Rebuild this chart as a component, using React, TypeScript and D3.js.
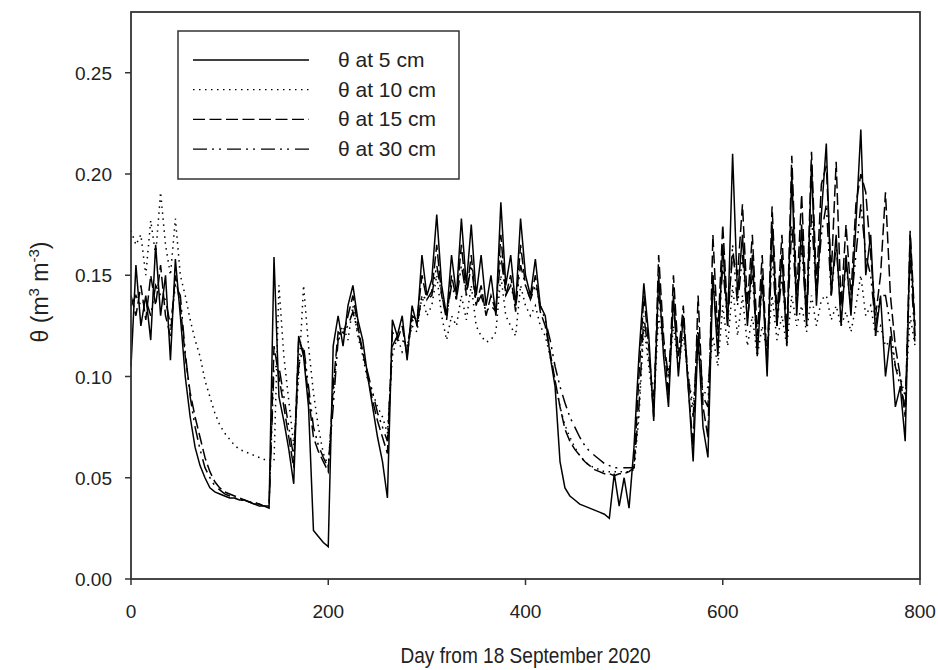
import React from "react";
import * as d3 from "d3";

// Day index (every 5 days from 18 Sep 2020)
const days: number[] = d3.range(0, 800, 5);

const theta5: number[] = [
  0.105,0.155,0.125,0.140,0.118,0.165,0.130,0.150,0.108,0.158,
  0.130,0.100,0.080,0.065,0.056,0.050,0.045,0.043,0.042,0.041,
  0.040,0.040,0.039,0.039,0.038,0.037,0.036,0.036,0.035,0.159,
  0.090,0.078,0.064,0.047,0.120,0.110,0.085,0.024,0.021,0.018,
  0.016,0.115,0.130,0.115,0.135,0.145,0.128,0.118,0.100,0.085,
  0.070,0.058,0.040,0.128,0.120,0.130,0.108,0.135,0.125,0.160,
  0.140,0.148,0.180,0.145,0.130,0.160,0.140,0.178,0.145,0.175,
  0.140,0.160,0.135,0.150,0.130,0.186,0.145,0.160,0.135,0.178,
  0.150,0.140,0.158,0.135,0.130,0.110,0.095,0.058,0.045,0.041,
  0.039,0.037,0.036,0.035,0.034,0.033,0.032,0.030,0.052,0.036,
  0.050,0.035,0.065,0.110,0.146,0.120,0.078,0.150,0.110,0.085,
  0.140,0.100,0.130,0.095,0.058,0.120,0.075,0.060,0.150,0.110,
  0.165,0.125,0.210,0.140,0.170,0.125,0.160,0.110,0.150,0.100,
  0.175,0.125,0.160,0.115,0.200,0.130,0.175,0.125,0.205,0.135,
  0.180,0.215,0.140,0.170,0.125,0.160,0.130,0.175,0.222,0.150,
  0.170,0.120,0.140,0.100,0.120,0.085,0.095,0.068,0.170,0.120,
];

const theta10: number[] = [
  0.172,0.165,0.170,0.150,0.177,0.160,0.191,0.165,0.150,0.178,
  0.150,0.140,0.128,0.118,0.110,0.098,0.090,0.082,0.076,0.072,
  0.069,0.066,0.064,0.063,0.062,0.061,0.060,0.059,0.059,0.058,
  0.145,0.110,0.088,0.066,0.100,0.145,0.115,0.092,0.075,0.062,
  0.056,0.090,0.120,0.125,0.118,0.135,0.120,0.110,0.098,0.092,
  0.085,0.080,0.072,0.110,0.120,0.112,0.115,0.125,0.122,0.140,
  0.130,0.135,0.150,0.130,0.118,0.130,0.125,0.140,0.128,0.145,
  0.125,0.120,0.117,0.118,0.122,0.150,0.130,0.125,0.120,0.145,
  0.135,0.130,0.135,0.125,0.120,0.110,0.098,0.085,0.076,0.070,
  0.065,0.061,0.058,0.056,0.055,0.054,0.053,0.053,0.053,0.053,
  0.053,0.053,0.054,0.080,0.125,0.105,0.085,0.130,0.115,0.100,
  0.125,0.105,0.120,0.100,0.085,0.115,0.090,0.095,0.120,0.105,
  0.135,0.115,0.145,0.120,0.140,0.115,0.130,0.110,0.125,0.112,
  0.140,0.118,0.130,0.115,0.140,0.125,0.135,0.122,0.140,0.125,
  0.138,0.140,0.128,0.135,0.125,0.132,0.122,0.135,0.150,0.130,
  0.135,0.120,0.125,0.115,0.118,0.105,0.100,0.090,0.130,0.115,
];

const theta15: number[] = [
  0.140,0.130,0.145,0.128,0.150,0.135,0.155,0.130,0.120,0.150,
  0.135,0.110,0.092,0.080,0.070,0.060,0.053,0.048,0.045,0.043,
  0.042,0.041,0.040,0.039,0.038,0.038,0.037,0.036,0.036,0.115,
  0.100,0.085,0.070,0.055,0.118,0.112,0.090,0.070,0.063,0.058,
  0.053,0.095,0.122,0.120,0.130,0.140,0.125,0.112,0.100,0.088,
  0.078,0.070,0.062,0.122,0.118,0.125,0.110,0.130,0.128,0.150,
  0.138,0.142,0.165,0.140,0.128,0.150,0.138,0.165,0.140,0.160,
  0.135,0.145,0.130,0.140,0.132,0.170,0.140,0.150,0.132,0.165,
  0.145,0.138,0.150,0.132,0.125,0.112,0.098,0.085,0.074,0.068,
  0.064,0.061,0.058,0.056,0.054,0.053,0.052,0.052,0.051,0.052,
  0.052,0.053,0.055,0.100,0.140,0.115,0.080,0.160,0.120,0.090,
  0.150,0.110,0.135,0.095,0.065,0.140,0.085,0.070,0.170,0.120,
  0.175,0.130,0.160,0.150,0.185,0.135,0.170,0.120,0.160,0.105,
  0.184,0.130,0.170,0.120,0.209,0.140,0.190,0.130,0.211,0.145,
  0.195,0.204,0.150,0.206,0.135,0.175,0.140,0.185,0.200,0.191,
  0.160,0.130,0.150,0.191,0.140,0.115,0.100,0.080,0.172,0.125,
];

const theta30: number[] = [
  0.135,0.140,0.135,0.138,0.130,0.145,0.140,0.138,0.125,0.145,
  0.140,0.112,0.090,0.075,0.064,0.055,0.050,0.046,0.044,0.042,
  0.041,0.040,0.039,0.039,0.038,0.037,0.037,0.036,0.036,0.105,
  0.105,0.090,0.075,0.060,0.105,0.115,0.095,0.075,0.066,0.060,
  0.055,0.085,0.118,0.122,0.125,0.132,0.122,0.112,0.102,0.092,
  0.082,0.075,0.068,0.115,0.120,0.118,0.115,0.128,0.125,0.140,
  0.138,0.140,0.155,0.140,0.130,0.145,0.138,0.155,0.140,0.155,
  0.135,0.140,0.132,0.135,0.132,0.160,0.140,0.145,0.135,0.155,
  0.145,0.138,0.145,0.135,0.128,0.118,0.105,0.095,0.087,0.080,
  0.075,0.070,0.066,0.063,0.061,0.059,0.057,0.056,0.055,0.055,
  0.055,0.055,0.055,0.085,0.130,0.110,0.090,0.140,0.118,0.100,
  0.135,0.110,0.128,0.100,0.080,0.125,0.090,0.085,0.150,0.115,
  0.155,0.125,0.165,0.135,0.160,0.128,0.150,0.115,0.145,0.110,
  0.160,0.125,0.150,0.120,0.175,0.135,0.165,0.128,0.180,0.140,
  0.170,0.185,0.140,0.165,0.130,0.155,0.135,0.160,0.185,0.160,
  0.150,0.125,0.140,0.140,0.125,0.105,0.095,0.085,0.160,0.115,
];

const seriesLabels: string[] = ["θ at 5 cm", "θ at 10 cm", "θ at 15 cm", "θ at 30 cm"];
const xTicks: number[] = [0, 200, 400, 600, 800];
const yTicks: number[] = [0, 0.05, 0.1, 0.15, 0.2, 0.25];

const W = 938;
const H = 670;
const M = { left: 131, right: 920, top: 12, bottom: 579 };
const FONT = "'Liberation Sans', Arial, sans-serif";
const dashes = ["none", "1.5,4.5", "12,4.5", "14,5,2,5,2,6"];

export default function App() {
  const x = d3.scaleLinear().domain([0, 800]).range([M.left, M.right]);
  const y = d3.scaleLinear().domain([0, 0.28]).range([M.bottom, M.top]);
  const all = [theta5, theta10, theta15, theta30];
  const line = d3
    .line<number>()
    .x((_, i) => x(days[i]))
    .y((v) => y(v));
  const drawOrder = [1, 2, 3, 0];
  const axisColor = "#333";

  return (
    <svg
      width={W}
      height={H}
      style={{ position: "absolute", left: 0, top: 0, background: "#fff" }}
      fontFamily={FONT}
    >
      <rect x={0} y={0} width={W} height={H} fill="#fff" />
      {drawOrder.map((k) => (
        <path
          key={k}
          d={line(all[k]) || ""}
          fill="none"
          stroke="#000"
          strokeWidth={1.5}
          strokeDasharray={dashes[k] === "none" ? undefined : dashes[k]}
          strokeLinejoin="miter"
        />
      ))}
      {/* frame */}
      <rect
        x={M.left}
        y={M.top}
        width={M.right - M.left}
        height={M.bottom - M.top}
        fill="none"
        stroke={axisColor}
        strokeWidth={1.8}
      />
      {/* x ticks */}
      {xTicks.map((t) => (
        <g key={"x" + t}>
          <line x1={x(t)} x2={x(t)} y1={M.bottom} y2={M.bottom + 6} stroke={axisColor} strokeWidth={1.5} />
          <text x={x(t)} y={M.bottom + 39} textAnchor="middle" fontSize={19} fill="#222">
            {t}
          </text>
        </g>
      ))}
      {/* y ticks */}
      {yTicks.map((t) => (
        <g key={"y" + t}>
          <line x1={M.left - 6} x2={M.left} y1={y(t)} y2={y(t)} stroke={axisColor} strokeWidth={1.5} />
          <text x={M.left - 19} y={y(t) + 7} textAnchor="end" fontSize={19} fill="#222">
            {t.toFixed(2)}
          </text>
        </g>
      ))}
      {/* axis titles */}
      <text
        x={(M.left + M.right) / 2}
        y={663}
        textAnchor="middle"
        fontSize={22}
        fill="#222"
        textLength={250}
        lengthAdjust="spacingAndGlyphs"
      >
        Day from 18 September 2020
      </text>
      <text transform={`translate(48, 292) rotate(-90)`} textAnchor="middle" fontSize={23} fill="#222">
        θ (m
        <tspan dy={-9} fontSize={15}>3</tspan>
        <tspan dy={9}> m</tspan>
        <tspan dy={-9} fontSize={15}>-3</tspan>
        <tspan dy={9}>)</tspan>
      </text>
      {/* legend */}
      <rect x={178} y={31} width={281} height={148} fill="#fff" stroke={axisColor} strokeWidth={1.5} />
      {seriesLabels.map((lab, i) => {
        const ly = 60 + i * 29.7;
        return (
          <g key={lab}>
            <line
              x1={193}
              x2={309}
              y1={ly}
              y2={ly}
              stroke="#000"
              strokeWidth={1.3}
              strokeDasharray={dashes[i] === "none" ? undefined : dashes[i]}
            />
            <text x={338} y={ly + 7} fontSize={21} fill="#222">
              {lab}
            </text>
          </g>
        );
      })}
    </svg>
  );
}
